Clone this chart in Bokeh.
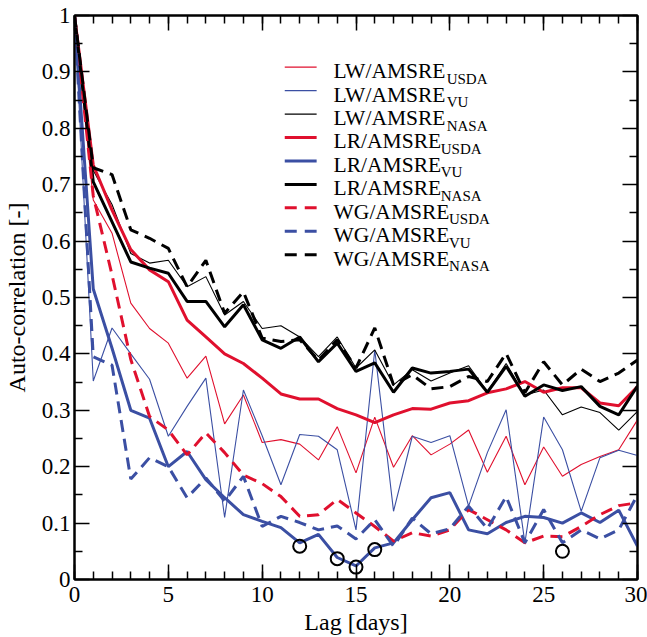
from bokeh.plotting import figure
from bokeh.models import FixedTicker, LinearAxis, Range1d
from bokeh.core.properties import value
from bokeh.embed import file_html
from bokeh.resources import INLINE

# ---------------- data ----------------
lags = list(range(31))

lw_usda = [1.0, 0.673, 0.614, 0.49, 0.445, 0.419, 0.357, 0.396, 0.276, 0.327, 0.243,
           0.248, 0.24, 0.212, 0.271, 0.189, 0.288, 0.199, 0.255, 0.221, 0.24,
           0.265, 0.19, 0.254, 0.168, 0.235, 0.183, 0.204, 0.218, 0.23, 0.283]
lw_vu = [1.0, 0.352, 0.446, 0.40, 0.355, 0.254, 0.307, 0.357, 0.11, 0.336, 0.255,
         0.168, 0.257, 0.254, 0.23, 0.088, 0.407, 0.121, 0.254, 0.243, 0.255,
         0.13, 0.225, 0.301, 0.065, 0.288, 0.23, 0.121, 0.216, 0.229, 0.22]
lw_nasa = [1.0, 0.725, 0.665, 0.578, 0.561, 0.566, 0.519, 0.537, 0.469, 0.493, 0.445,
           0.45, 0.43, 0.395, 0.43, 0.375, 0.407, 0.345, 0.372, 0.352, 0.366,
           0.379, 0.333, 0.383, 0.327, 0.336, 0.292, 0.306, 0.296, 0.265, 0.298]
lr_usda = [1.0, 0.735, 0.655, 0.585, 0.549, 0.528, 0.46, 0.43, 0.40, 0.383, 0.357,
           0.329, 0.32, 0.32, 0.303, 0.292, 0.278, 0.292, 0.303, 0.302, 0.313,
           0.317, 0.331, 0.338, 0.351, 0.332, 0.34, 0.34, 0.313, 0.308, 0.342]
lr_vu = [1.0, 0.515, 0.41, 0.30, 0.286, 0.2, 0.227, 0.177, 0.145, 0.115, 0.103,
         0.092, 0.065, 0.08, 0.039, 0.024, 0.056, 0.065, 0.106, 0.145, 0.154,
         0.088, 0.081, 0.101, 0.112, 0.11, 0.1, 0.118, 0.101, 0.123, 0.059]
lr_nasa = [1.0, 0.705, 0.634, 0.563, 0.552, 0.543, 0.493, 0.493, 0.448, 0.487, 0.425,
           0.41, 0.43, 0.386, 0.419, 0.369, 0.384, 0.332, 0.375, 0.366, 0.369,
           0.373, 0.332, 0.378, 0.325, 0.345, 0.335, 0.342, 0.307, 0.292, 0.343]
wg_usda = [1.0, 0.68, 0.54, 0.39, 0.289, 0.265, 0.221, 0.26, 0.225, 0.185, 0.17,
           0.147, 0.112, 0.115, 0.142, 0.118, 0.094, 0.068, 0.083, 0.077, 0.088,
           0.124, 0.106, 0.088, 0.065, 0.077, 0.076, 0.094, 0.115, 0.131, 0.136]
wg_vu = [1.0, 0.395, 0.38, 0.178, 0.216, 0.2, 0.145, 0.18, 0.139, 0.183, 0.094,
         0.112, 0.101, 0.088, 0.095, 0.072, 0.106, 0.059, 0.109, 0.081, 0.09,
         0.13, 0.09, 0.147, 0.065, 0.124, 0.065, 0.088, 0.072, 0.088, 0.15]
wg_nasa = [1.0, 0.73, 0.718, 0.62, 0.605, 0.587, 0.519, 0.566, 0.472, 0.51, 0.428,
           0.422, 0.425, 0.389, 0.425, 0.375, 0.446, 0.345, 0.363, 0.338, 0.342,
           0.36, 0.351, 0.401, 0.331, 0.386, 0.345, 0.373, 0.351, 0.366, 0.389]

circle_lags = [12, 14, 15, 16, 26]
circle_vals = [0.059, 0.037, 0.022, 0.053, 0.05]

x_ticks = [0, 5, 10, 15, 20, 25, 30]
x_tick_labels = ["0", "5", "10", "15", "20", "25", "30"]
x_minor = list(range(31))
y_ticks = [0, 0.1, 0.2, 0.3, 0.4, 0.5, 0.6, 0.7, 0.8, 0.9, 1]
y_tick_labels = ["0", "0.1", "0.2", "0.3", "0.4", "0.5", "0.6", "0.7", "0.8", "0.9", "1"]
y_minor = [0.05, 0.15, 0.25, 0.35, 0.45, 0.55, 0.65, 0.75, 0.85, 0.95]

x_label = "Lag [days]"
y_label = "Auto-correlation [-]"
legend_main = ["LW/AMSRE", "LW/AMSRE", "LW/AMSRE", "LR/AMSRE", "LR/AMSRE",
               "LR/AMSRE", "WG/AMSRE", "WG/AMSRE", "WG/AMSRE"]
legend_sub = ["USDA", "VU", "NASA", "USDA", "VU", "NASA", "USDA", "VU", "NASA"]

# ---------------- styles / layout ----------------
RED = "#e0102e"
BLUE = "#3b4fa3"
BLACK = "#000000"
FONT = "Liberation Serif"
DASH = "12 7"

W, H = 647, 637
B_LEFT, B_TOP, B_RIGHT, B_BOTTOM = 72, 15, 10, 57
FW = W - B_LEFT - B_RIGHT
FH = H - B_TOP - B_BOTTOM

series = [
    (lw_usda, RED, 1.1, "solid"),
    (lw_vu, BLUE, 1.1, "solid"),
    (lw_nasa, BLACK, 1.1, "solid"),
    (lr_usda, RED, 3.0, "solid"),
    (lr_vu, BLUE, 3.0, "solid"),
    (lr_nasa, BLACK, 3.0, "solid"),
    (wg_usda, RED, 3.0, DASH),
    (wg_vu, BLUE, 3.0, DASH),
    (wg_nasa, BLACK, 3.0, DASH),
]

p = figure(width=W, height=H, output_backend="svg", toolbar_location=None,
           x_range=Range1d(0, 30), y_range=Range1d(0, 1),
           min_border_left=B_LEFT, min_border_right=B_RIGHT, min_border_top=B_TOP,
           min_border_bottom=B_BOTTOM)
p.grid.visible = False
p.outline_line_color = "black"
p.outline_line_width = 2
p.background_fill_color = "white"
p.border_fill_color = "white"

for ys, col, lw, dash in series:
    p.line(lags, ys, line_color=col, line_width=lw, line_dash=dash)

p.scatter(circle_lags, circle_vals, marker="circle", size=13, fill_color=None,
          line_color="black", line_width=2)

xt = FixedTicker(ticks=x_ticks, minor_ticks=x_minor)
yt = FixedTicker(ticks=y_ticks, minor_ticks=y_minor)


def style_axis(ax, labels):
    ax.axis_line_width = 2
    ax.axis_line_color = "black"
    ax.major_tick_in = 15
    ax.major_tick_out = 0
    ax.minor_tick_in = 8
    ax.minor_tick_out = 0
    ax.major_tick_line_width = 1.5
    ax.minor_tick_line_width = 1.5
    ax.major_tick_line_color = "black"
    ax.minor_tick_line_color = "black"
    ax.major_label_text_font = FONT
    ax.major_label_text_font_size = "23px"
    ax.major_label_text_color = "black"
    ax.axis_label_text_font = FONT
    ax.axis_label_text_font_size = "24px"
    ax.axis_label_text_font_style = "normal"
    ax.axis_label_text_color = "black"
    if not labels:
        ax.major_label_text_font_size = "0px"
        ax.major_label_text_color = None
        ax.major_label_standoff = 0


xa = p.xaxis[0]
xa.ticker = xt
xa.major_label_overrides = dict(zip(x_ticks, x_tick_labels))
style_axis(xa, True)
xa.major_label_standoff = 7
xa.axis_label = x_label
xa.axis_label_standoff = 4

ya = p.yaxis[0]
ya.ticker = yt
ya.major_label_overrides = dict(zip(y_ticks, y_tick_labels))
style_axis(ya, True)
ya.major_label_standoff = 4
ya.axis_label = y_label
ya.axis_label_standoff = 9

top = LinearAxis(ticker=xt)
style_axis(top, False)
p.add_layout(top, "above")
right = LinearAxis(ticker=yt)
style_axis(right, False)
p.add_layout(right, "right")

# page pixel -> data helpers (legend placement), from the frame layout
def dx(px):
    return (px - B_LEFT) * 30.0 / FW
def dy(py):
    return (B_TOP + FH - py) / FH

# ---------------- legend (manual, for subscripts) ----------------
TW = {"L": 0.611, "W": 0.944, "/": 0.278, "A": 0.722, "M": 0.889, "S": 0.556,
      "R": 0.667, "E": 0.611, "G": 0.722}
MAIN_PX = 21.5
SUB_PX = 15
row0, row_step = 66.7, 23.5
for i, (main, sub) in enumerate(zip(legend_main, legend_sub)):
    _, col, lw, dash = series[i]
    yline = row0 + i * row_step
    p.line([dx(283), dx(315)], [dy(yline), dy(yline)], line_color=col,
           line_width=max(lw, 1.3), line_dash=dash if dash != DASH else "12 8")
    tx = 332
    p.text([dx(tx)], [dy(yline + 4)], text=[main], text_font=value(FONT),
           text_font_size=value(f"{MAIN_PX}px"), text_baseline="alphabetic",
           text_align="left", text_color="black")
    wpx = sum(TW[c] for c in main) * MAIN_PX
    p.text([dx(tx + wpx)], [dy(yline + 4 + 7.5)], text=[sub], text_font=value(FONT),
           text_font_size=value(f"{SUB_PX}px"), text_baseline="alphabetic",
           text_align="left", text_color="black")

open("out.html", "w").write(file_html(p, INLINE))
